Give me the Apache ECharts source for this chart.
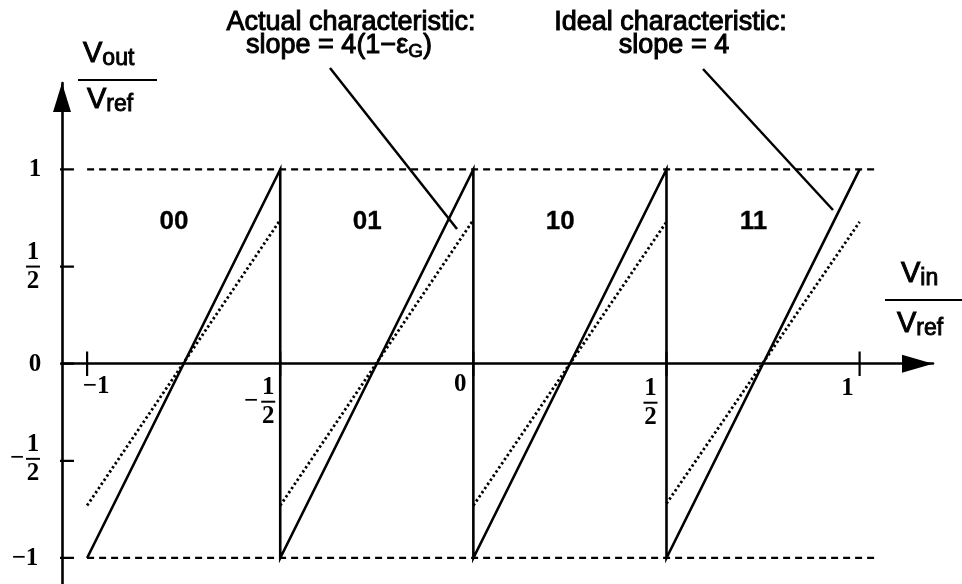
<!DOCTYPE html>
<html>
<head>
<meta charset="utf-8">
<script src="https://cdn.jsdelivr.net/npm/echarts@6/dist/echarts.min.js"></script>
<style>
  html, body { margin: 0; padding: 0; background: #fff; }
  #chart { width: 962px; height: 584px; }
</style>
</head>
<body>
<div id="chart"></div>
<script>
// Residue transfer characteristic of a 2-bit pipelined ADC stage.

// Ideal characteristic (slope = 4): sawtooth with jumps at -1/2, 0, 1/2
const idealVin  = [-1, -0.5, -0.5, 0, 0, 0.5, 0.5, 1];
const idealVout = [-1, 1, -1, 1, -1, 1, -1, 1];

// Actual characteristic (slope = 4(1 - eps_G)): one segment per output code
const actualVinStart  = [-1, -0.5, 0, 0.5];
const actualVinEnd    = [-0.5, 0, 0.5, 1];
const actualVoutStart = [-0.73, -0.73, -0.73, -0.72];
const actualVoutEnd   = [0.74, 0.74, 0.73, 0.73];

// Output codes, one per segment
const codes = ['00', '01', '10', '11'];

// Dashed full-scale limits at +/- Vref
const fullScaleLevels = [1, -1];
const fullScaleSpan = [-1, 1.04];

// Tick positions and their labels
const xTicks = [-1, -0.5, 0, 0.5, 1];
const xTickLabels = ['−1', '−1/2', '0', '1/2', '1'];
const yTicks = [1, 0.5, 0, -0.5, -1];
const yTickLabels = ['1', '1/2', '0', '−1/2', '−1'];

// ---- layout ----
const X_MIN = -1.065, X_MAX = 1.19;
const Y_MIN = -1.134, Y_MAX = 1.445;
const TICK_HALF_Y = 0.063;   // half tick length on the x axis, in Vout units
const TICK_HALF_X = 0.031;   // half tick length on the y axis, in Vin units
const CODE_DX = 0.225, CODE_Y = 0.73;

const INK = '#000';
const SERIF = 'bold 25px "Liberation Serif"';

// label placement relative to each tick (pixels)
const xLabelLayout = [
  { dx: 9,   dy: 23 },
  { dx: -12, dy: 38, minusDx: -17 },
  { dx: -13, dy: 21 },
  { dx: -16, dy: 39 },
  { dx: -12, dy: 25 }
];
const yLabelLayout = [
  { dx: -27, dy: 0 },
  { dx: -29, dy: 0 },
  { dx: -27, dy: 1 },
  { dx: -29, dy: -2, minusDx: -16 },
  { dx: -37, dy: 1 }
];

const chart = echarts.init(document.getElementById('chart'), null, { renderer: 'canvas' });

const pairs = (xs, ys) => xs.map((x, i) => [x, ys[i]]);

const tickData = [];
xTicks.forEach(t => { tickData.push([t, -TICK_HALF_Y], [t, TICK_HALF_Y], ['-', '-']); });
yTicks.forEach(t => { tickData.push([X_MIN - TICK_HALF_X, t], [X_MIN + TICK_HALF_X, t], ['-', '-']); });

const series = [];

// full-scale limits
fullScaleLevels.forEach(level => {
  series.push({
    type: 'line', silent: true, symbol: 'none', z: 2,
    data: [[fullScaleSpan[0], level], [fullScaleSpan[1], level]],
    lineStyle: { color: INK, width: 2.2, type: [7, 5] }
  });
});

// actual characteristic, dotted
actualVinStart.forEach((x0, i) => {
  series.push({
    type: 'line', silent: true, symbol: 'none', z: 3,
    data: [[x0, actualVoutStart[i]], [actualVinEnd[i], actualVoutEnd[i]]],
    lineStyle: { color: INK, width: 2.8, type: [2.4, 2.6] }
  });
});

// ideal characteristic, solid
series.push({
  type: 'line', silent: true, symbol: 'none', z: 4,
  data: pairs(idealVin, idealVout),
  lineStyle: { color: INK, width: 2.6, join: 'miter' }
});

// tick marks crossing both axes
series.push({
  type: 'line', silent: true, symbol: 'none', z: 5, clip: false, connectNulls: false,
  data: tickData,
  lineStyle: { color: INK, width: 2.2 }
});

// code labels
series.push({
  type: 'scatter', silent: true, symbolSize: 0, z: 6,
  itemStyle: { opacity: 1 },
  data: actualVinStart.map(x0 => [x0 + CODE_DX, CODE_Y]),
  label: {
    show: true, position: 'inside',
    formatter: p => codes[p.dataIndex],
    color: INK, fontFamily: 'Liberation Sans', fontWeight: 'bold', fontSize: 26,
    textBorderColor: INK, textBorderWidth: 0.3
  }
});

const axisLineStyle = { color: INK, width: 2.6 };

chart.setOption({
  animation: false,
  backgroundColor: '#fff',
  grid: { left: 62, right: 29, top: 83, bottom: 0, containLabel: false },
  xAxis: {
    type: 'value', min: X_MIN, max: X_MAX,
    splitLine: { show: false }, axisTick: { show: false }, axisLabel: { show: false },
    axisLine: { show: true, onZero: true, symbol: ['none', 'triangle'],
      symbolSize: [18, 31], symbolOffset: [0, -15.5], lineStyle: axisLineStyle }
  },
  yAxis: {
    type: 'value', min: Y_MIN, max: Y_MAX,
    splitLine: { show: false }, axisTick: { show: false }, axisLabel: { show: false },
    axisLine: { show: true, onZero: false, symbol: ['none', 'triangle'],
      symbolSize: [18, 29], symbolOffset: [0, -14.5], lineStyle: axisLineStyle }
  },
  series
});

// ---- text and annotation overlay ----
const toPx = (x, y) => chart.convertToPixel({ gridIndex: 0 }, [x, y]);

function text(str, x, y, font, opts) {
  const o = opts || {};
  const style = {
    text: str, font, fill: INK,
    align: o.align || 'center', textAlign: o.align || 'center',
    verticalAlign: 'middle', textVerticalAlign: 'middle'
  };
  if (o.stroke) { style.stroke = INK; style.lineWidth = o.stroke; }
  if (o.rich) style.rich = o.rich;
  return { type: 'text', silent: true, x, y, z: 20, style };
}
function seg(x1, y1, x2, y2, w) {
  return { type: 'line', silent: true, z: 20, shape: { x1, y1, x2, y2 },
           style: { stroke: INK, lineWidth: w } };
}
function tickLabel(label, cx, cy, lay, out) {
  const x = cx + lay.dx, y = cy + lay.dy;
  const neg = label.charAt(0) === '−';
  const body = neg ? label.slice(1) : label;
  if (body.indexOf('/') >= 0) {
    const parts = body.split('/');
    out.push(text(parts[0], x, y - 14, SERIF));
    out.push(seg(x - 7, y, x + 7, y, 2));
    out.push(text(parts[1], x, y + 15, SERIF));
    if (neg) out.push(text('−', x + lay.minusDx, y, SERIF));
  } else {
    out.push(text(label, x, y, SERIF));
  }
}

const g = [];
xTicks.forEach((t, i) => {
  const p = toPx(t, 0);
  tickLabel(xTickLabels[i], p[0], p[1], xLabelLayout[i], g);
});
yTicks.forEach((t, i) => {
  const p = toPx(X_MIN, t);
  tickLabel(yTickLabels[i], p[0], p[1], yLabelLayout[i], g);
});

const SANS = '27px "Liberation Sans"';
const richMain = {
  t: { fontFamily: 'Liberation Sans', fontSize: 27, lineHeight: 30, fill: INK, stroke: INK, lineWidth: 1 },
  s: { fontFamily: 'Liberation Sans', fontSize: 19, lineHeight: 30, verticalAlign: 'bottom', fill: INK, stroke: INK, lineWidth: 0.8 }
};
const richAxis = {
  t: { fontFamily: 'Liberation Sans', fontSize: 29, lineHeight: 32, fill: INK, stroke: INK, lineWidth: 1 },
  s: { fontFamily: 'Liberation Sans', fontSize: 23, lineHeight: 32, verticalAlign: 'bottom', fill: INK, stroke: INK, lineWidth: 0.9 }
};

// annotations
g.push(text('Actual characteristic:', 351, 22.5, SANS, { stroke: 1 }));
g.push(text('{t|slope = 4(1−ε}{s|G}{t|)}', 339, 46, SANS, { rich: richMain }));
g.push(seg(330, 68, 457, 229, 2.5));
g.push(text('Ideal characteristic:', 670.5, 22.5, SANS, { stroke: 1 }));
g.push(text('{t|slope = 4}', 674, 46, SANS, { rich: richMain }));
g.push(seg(703, 69, 833, 210, 2.5));

// axis titles
g.push(text('{t|V}{s|out}', 83, 54, SANS, { align: 'left', rich: richAxis }));
g.push(seg(78, 80, 157, 80, 2));
g.push(text('{t|V}{s|ref}', 87, 100, SANS, { align: 'left', rich: richAxis }));
g.push(text('{t|V}{s|in}', 901, 274, SANS, { align: 'left', rich: richAxis }));
g.push(seg(885, 300, 962, 300, 2));
g.push(text('{t|V}{s|ref}', 897, 324, SANS, { align: 'left', rich: richAxis }));

chart.setOption({ graphic: { elements: g } });
</script>
</body>
</html>
